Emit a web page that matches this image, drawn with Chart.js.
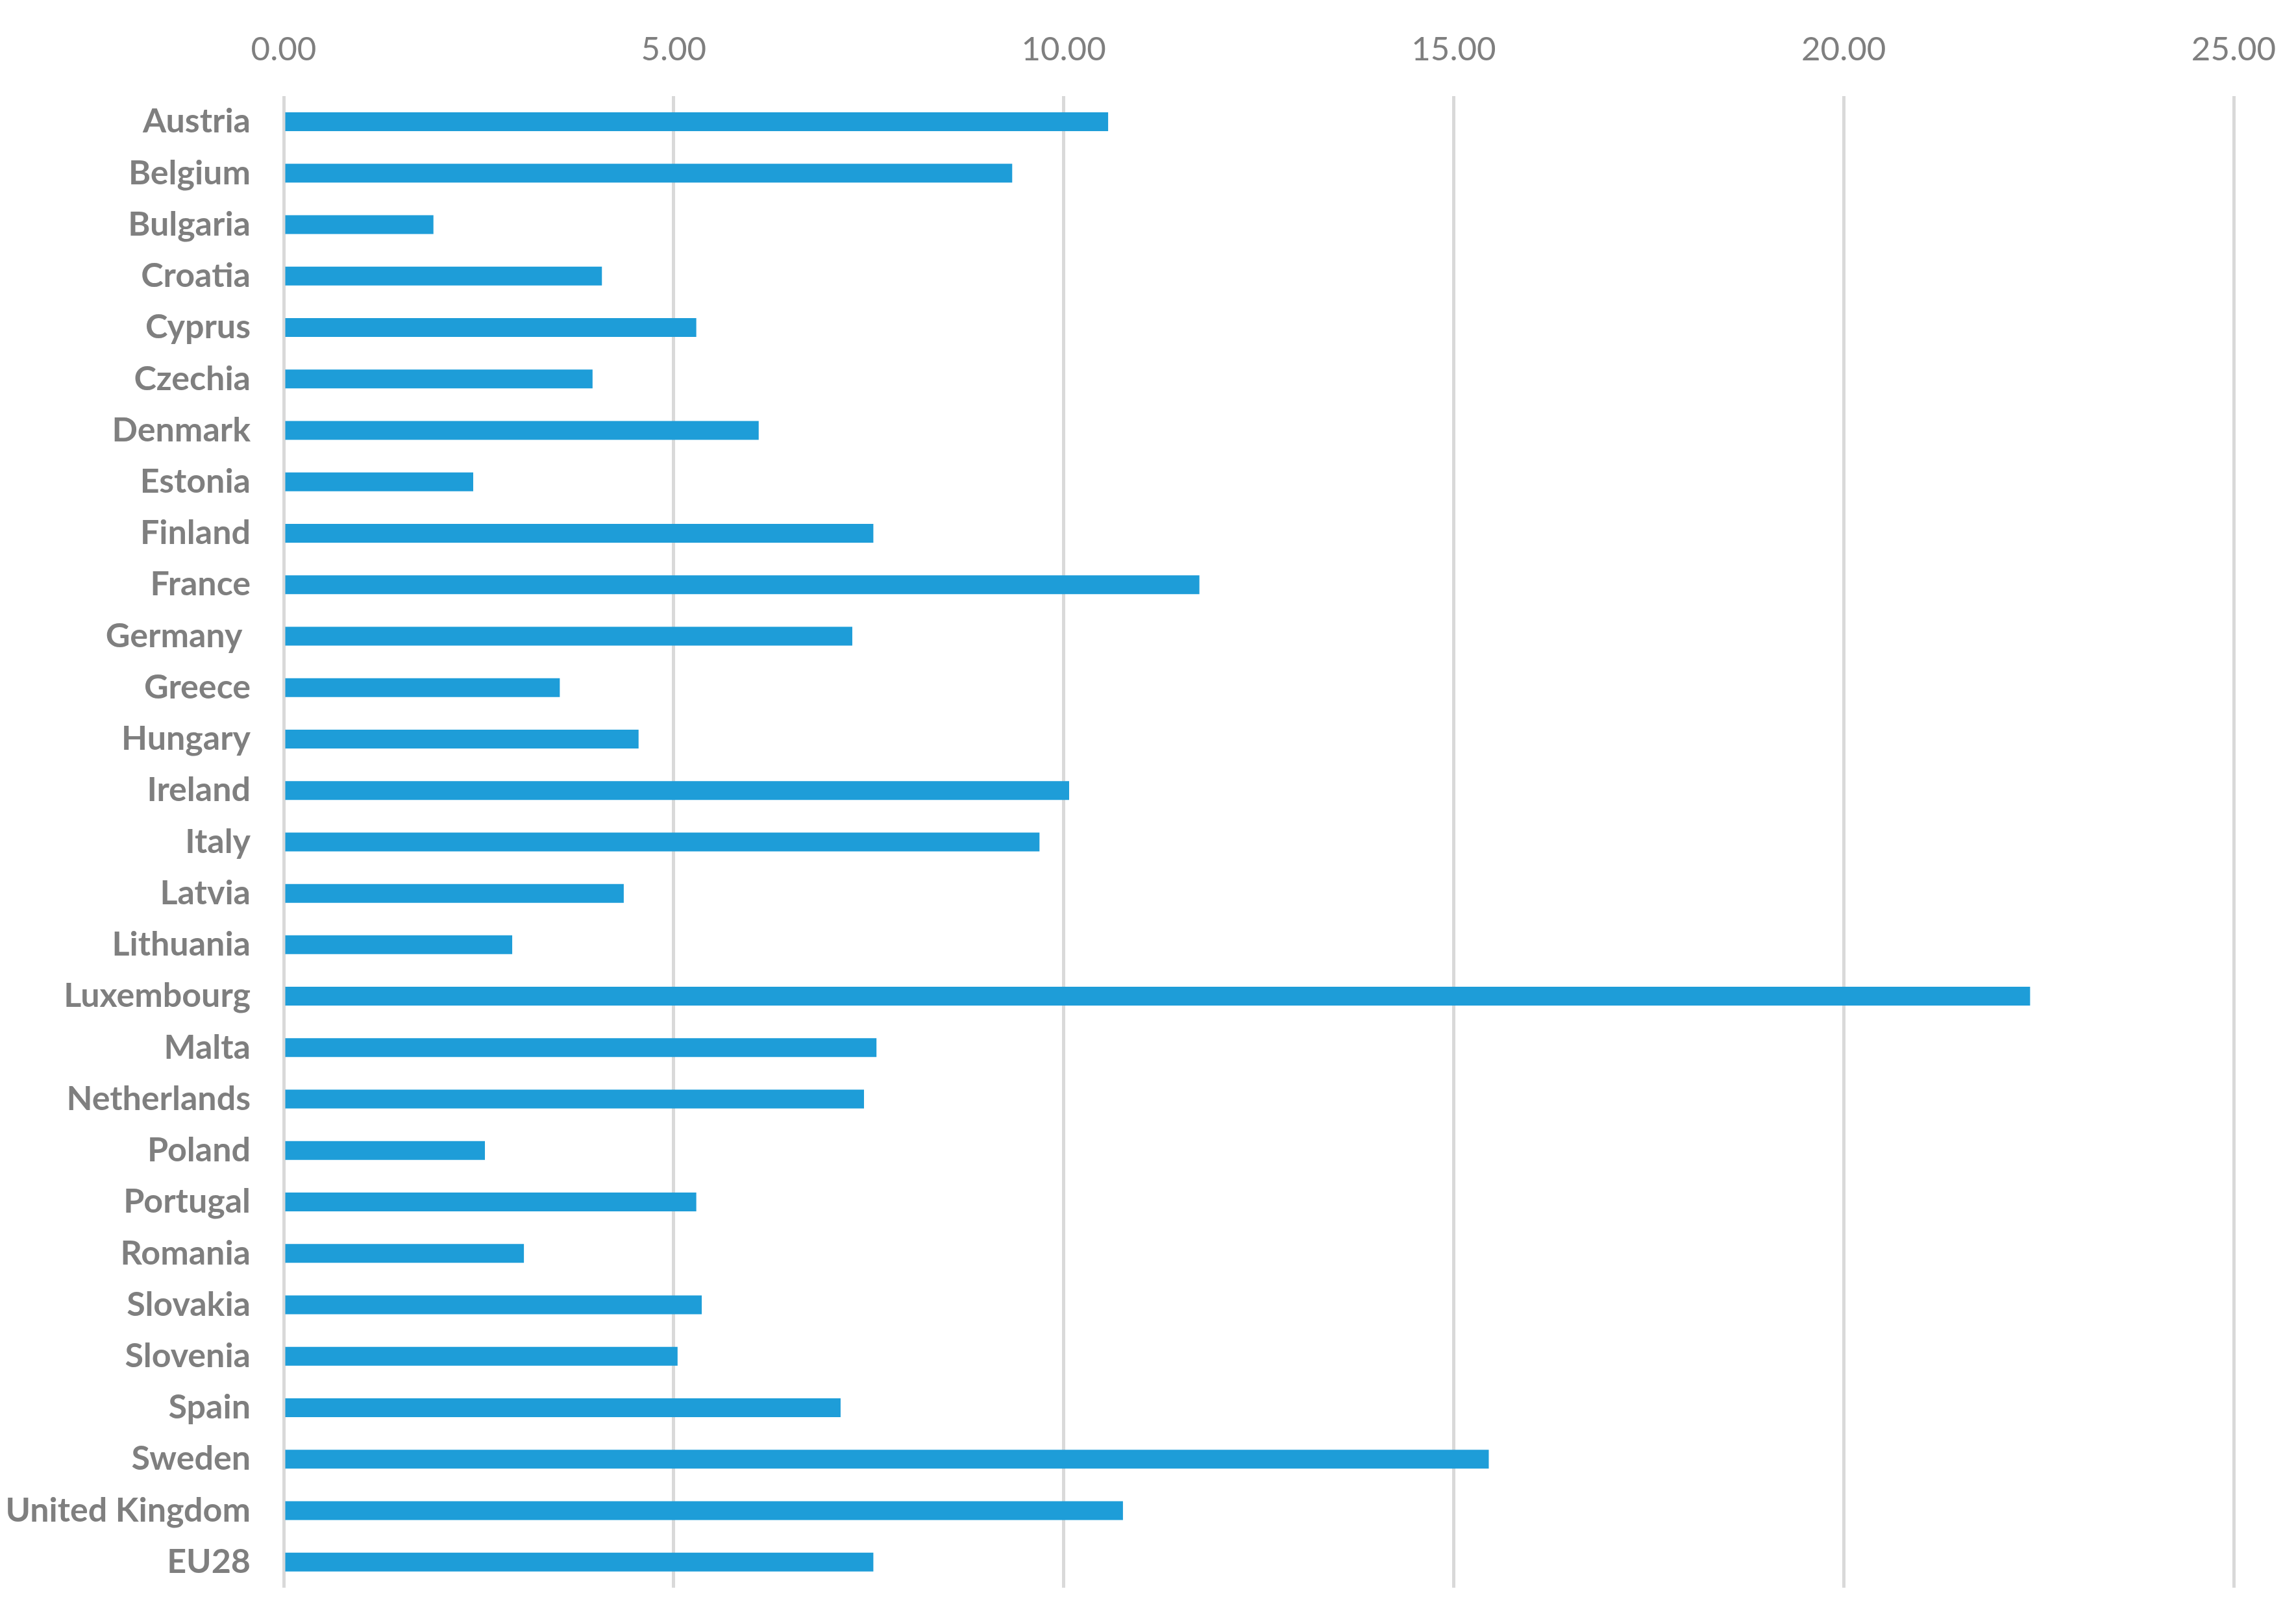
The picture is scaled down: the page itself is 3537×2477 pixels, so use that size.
<!DOCTYPE html>
<html>
<head>
<meta charset="utf-8">
<script src="https://cdn.jsdelivr.net/npm/chart.js@4"></script>
<style>
  html, body { margin: 0; padding: 0; background: #ffffff; overflow: hidden; }
  canvas { display: block; }
</style>
</head>
<body>
<canvas id="grafico" width="3537" height="2477"></canvas>
<script>
// categorias e valores
const paises = ['Austria', 'Belgium', 'Bulgaria', 'Croatia', 'Cyprus', 'Czechia', 'Denmark',
    'Estonia', 'Finland', 'France', 'Germany ', 'Greece', 'Hungary', 'Ireland', 'Italy',
    'Latvia', 'Lithuania', 'Luxembourg', 'Malta', 'Netherlands', 'Poland', 'Portugal',
    'Romania', 'Slovakia', 'Slovenia', 'Spain', 'Sweden', 'United Kingdom', 'EU28'];
const valores = [10.57, 9.34, 1.92, 4.08, 5.29, 3.96, 6.09,
    2.43, 7.56, 11.74, 7.29, 3.54, 4.55, 10.07, 9.69,
    4.36, 2.93, 22.39, 7.60, 7.44, 2.58, 5.29,
    3.08, 5.36, 5.05, 7.14, 15.45, 10.76, 7.56];
const eixoMin = 0;
const eixoMax = 25;
const eixoPasso = 5;

const cinzaTexto = '#7f7f7f';
const fonte = 'Lato, "Open Sans", sans-serif';

new Chart(document.getElementById('grafico'), {
    type: 'bar',
    data: {
        labels: paises,
        datasets: [{
            data: valores,
            backgroundColor: '#1e9dd8',
            borderWidth: 0,
            categoryPercentage: 1,
            barPercentage: 0.366
        }]
    },
    options: {
        indexAxis: 'y',
        responsive: false,
        animation: false,
        devicePixelRatio: 1,
        layout: {
            padding: { top: 0, right: 96, bottom: 31, left: 0 }
        },
        plugins: {
            legend: { display: false },
            tooltip: { enabled: false }
        },
        scales: {
            x: {
                position: 'top',
                min: eixoMin,
                max: eixoMax,
                afterFit: (scale) => { scale.height = 148; },
                ticks: {
                    stepSize: eixoPasso,
                    padding: 0,
                    color: cinzaTexto,
                    font: { family: fonte, size: 51 },
                    callback: (v) => Number(v).toFixed(2)
                },
                grid: {
                    color: '#d9d9d9',
                    lineWidth: 5,
                    drawTicks: true,
                    tickLength: 41,
                    tickColor: 'rgba(0,0,0,0)'
                },
                border: { display: false }
            },
            y: {
                afterFit: (scale) => { scale.width = 437; },
                ticks: {
                    padding: 0,
                    color: cinzaTexto,
                    font: { family: fonte, size: 52, weight: 'bold' },
                    autoSkip: false
                },
                grid: {
                    drawOnChartArea: false,
                    drawTicks: true,
                    tickLength: 51,
                    tickColor: 'rgba(0,0,0,0)',
                    color: 'rgba(0,0,0,0)'
                },
                border: { display: false }
            }
        }
    }
});
</script>
</body>
</html>
